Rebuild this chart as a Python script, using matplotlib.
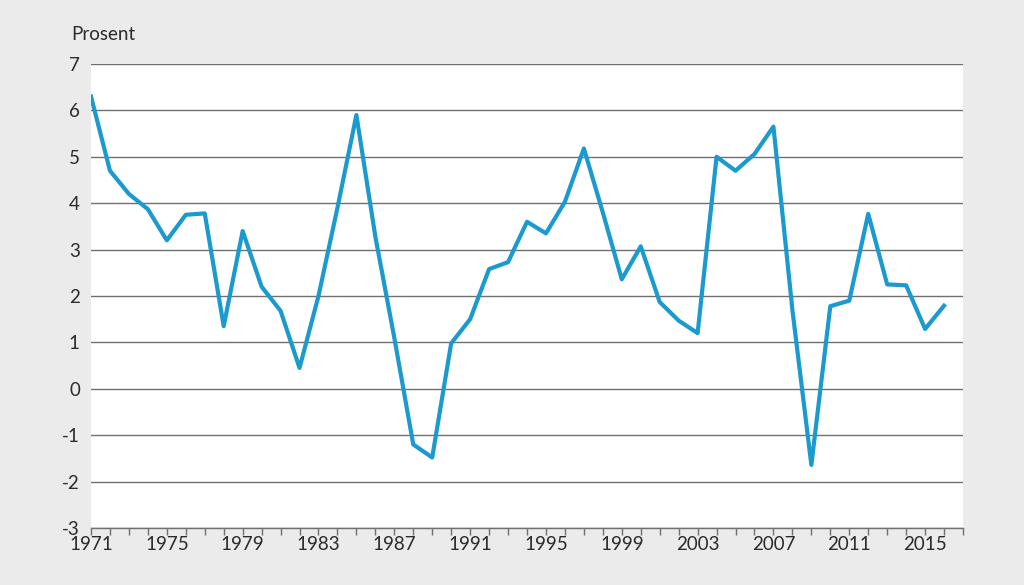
import matplotlib.pyplot as plt
import numpy as np

plt.rcParams['font.family'] = ['Lato', 'DejaVu Sans']
plt.rcParams['axes.unicode_minus'] = False

years = np.arange(1971, 2017)
values = [6.3, 4.7, 4.2, 3.87, 3.2, 3.75, 3.78, 1.35, 3.4, 2.2,
          1.68, 0.45, 2.0, 3.9, 5.9, 3.28, 1.1, -1.2, -1.48, 0.98,
          1.5, 2.58, 2.73, 3.6, 3.35, 4.03, 5.18, 3.8, 2.36, 3.07,
          1.87, 1.47, 1.2, 5.0, 4.7, 5.06, 5.65, 1.7, -1.64, 1.78,
          1.9, 3.77, 2.25, 2.23, 1.29, 1.79]
year_labels = list(range(1971, 2017, 4))
y_ticks = list(range(-3, 8))

bg = '#ebebeb'
text_color = '#2b2b2b'

fig = plt.figure(figsize=(10.24, 5.85), dpi=100, facecolor=bg)
ax = fig.add_axes([91 / 1024, 57 / 585, 872 / 1024, 464 / 585])
ax.set_facecolor('white')

ax.plot(years, values, color='#1a9acf', lw=3.0, solid_joinstyle='round', zorder=3)

ax.set_xlim(1971, 2017)
ax.set_ylim(-3, 7)
ax.set_yticks(y_ticks)
ax.set_xticks(year_labels)
ax.set_xticks(np.arange(1971, 2018), minor=True)
ax.grid(axis='y', color='#707070', lw=1.0)

for s in ['left', 'right', 'top']:
    ax.spines[s].set_visible(False)
ax.spines['bottom'].set_color('#707070')
ax.spines['bottom'].set_linewidth(1.0)

ax.tick_params(axis='y', length=0, pad=8, labelsize=13.5, labelcolor=text_color)
ax.tick_params(axis='x', which='both', length=5, width=1, color='#707070',
               pad=1, labelsize=13.5, labelcolor=text_color)

fig.text(71 / 1024, 1 - 35 / 585, 'Prosent', fontsize=13.5, color=text_color,
         ha='left', va='center')

fig.savefig('out.png', dpi=100, facecolor=bg)
